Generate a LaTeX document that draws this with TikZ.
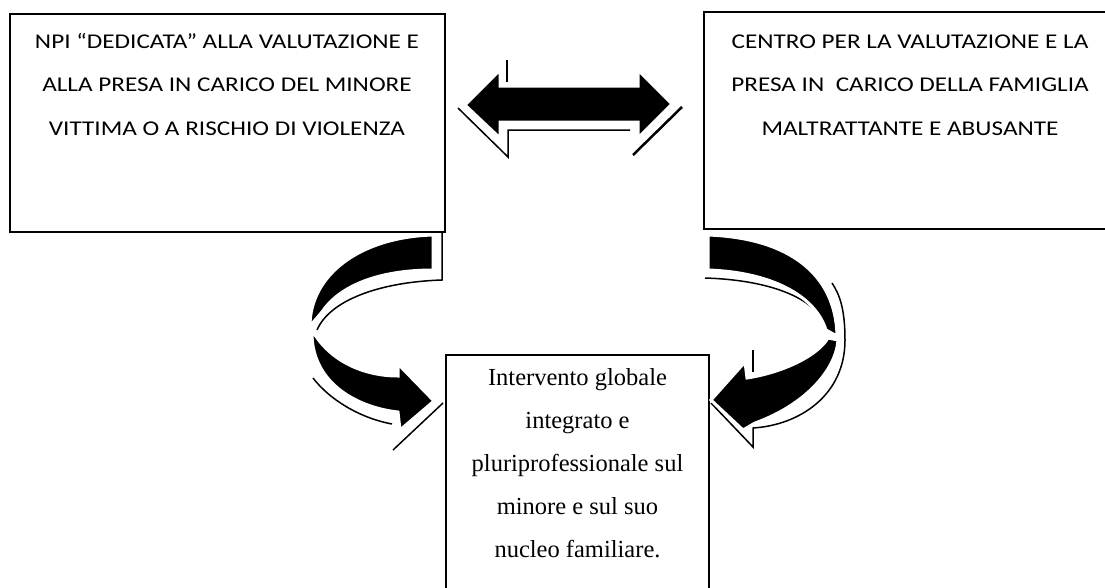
\documentclass[tikz,border=0pt]{standalone}
\usepackage{fontspec}
\setmainfont{Liberation Serif}
\newfontfamily\calibri[FakeStretch=1.2]{Carlito}
\usetikzlibrary{positioning}
\begin{document}
\begin{tikzpicture}[x=1pt, y=-1pt,
    box/.style={draw, line width=1.5pt, inner sep=0pt},
    caps/.style={align=center, font=\calibri\fontsize{21}{43.5}\selectfont},
    serif/.style={align=center, font=\fontsize{24.5}{43}\selectfont},
    ribbon/.style={fill=black, draw=white, line width=3pt, line join=miter},
    shade line/.style={line width=1.5pt}]
      \useasboundingbox (0,0) rectangle (1105,587);
      \clip (0,0) rectangle (1105,587);

      \node[box, minimum width=435, minimum height=218] (npi) at (227.5,123) {};
      \node[box, minimum width=412, minimum height=217] (centro) at (910,120.5) {};
      \node[box, minimum width=263, minimum height=250] (intervento) at (577.5,480) {};

      \node[caps, anchor=base] (npitext) at (227,135) {NPI “DEDICATA” ALLA VALUTAZIONE E\\ALLA PRESA IN CARICO DEL MINORE\\VITTIMA O A RISCHIO DI VIOLENZA};
      \node[caps, anchor=base] (centrotext) at (910,135) {CENTRO PER LA VALUTAZIONE E LA\\PRESA IN\ \ CARICO DELLA FAMIGLIA\\MALTRATTANTE E ABUSANTE};
      \node[serif, anchor=base] (interventotext) at (577.5,557) {Intervento globale\\integrato e\\pluriprofessionale sul\\minore e sul suo\\nucleo familiare.};

      \draw[shade line] (507,60) -- (507,82);
      \draw[shade line] (458,108) -- (508,157) -- (508,130) -- (630,130);
      \draw[line width=2.5pt] (682,107) -- (633,155);
      \path[ribbon] (465,105) -- (500,70) -- (500,86) -- (638,86) -- (638,70) -- (672,104)
        -- (638,138) -- (638,122) -- (500,122) -- (500,138) -- cycle;

      \draw[shade line] (442,233) -- (442,280) .. controls (380,282) and (330,300) .. (317,330);
      \draw[shade line] (313,378) .. controls (330,400) and (360,418) .. (392,424);
      \draw[shade line] (393,450) -- (443,403);
      \path[ribbon] (433,235) .. controls (360,237) and (310,275) .. (310,326)
        -- (322,312) .. controls (340,285) and (380,270) .. (433,270) -- cycle;
      \path[ribbon] (312,333) .. controls (312,385) and (360,408) .. (398,412)
        -- (400,430) -- (434,401) -- (398,364) -- (398,376)
        .. controls (365,376) and (330,362) .. (312,330) -- cycle;

      \draw[shade line] (705,278) .. controls (770,280) and (815,298) .. (826,326);
      \draw[shade line] (753,350) -- (753,372);
      \draw[shade line] (711,403) -- (753,447) -- (753,428)
        .. controls (800,425) and (845,395) .. (845,340) .. controls (845,310) and (840,295) .. (832,283);
      \path[ribbon] (708,235) .. controls (790,238) and (836,275) .. (837,336)
        -- (826,330) .. controls (815,295) and (770,272) .. (708,270) -- cycle;
      \path[ribbon] (838,340) .. controls (836,370) and (805,405) .. (755,423)
        -- (743,430) -- (711,400) -- (745,362) -- (747,378)
        .. controls (785,372) and (818,355) .. (828,338) -- cycle;
\end{tikzpicture}
\end{document}
